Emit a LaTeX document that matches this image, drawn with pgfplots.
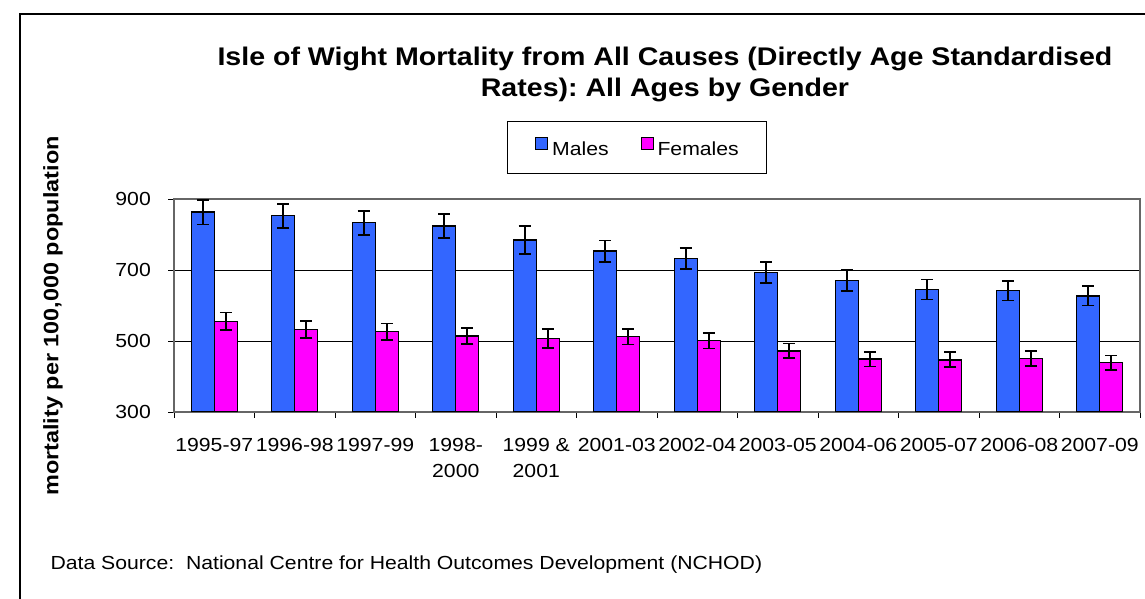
\documentclass[border=0pt]{standalone}
\usepackage{fontspec}
\setmainfont[FakeStretch=1.12]{Liberation Sans}
\usepackage{pgfplots}
\usepackage{pgfplotstable}
\pgfplotsset{compat=1.18}
\definecolor{mblue}{HTML}{3366FF}
\definecolor{mmag}{HTML}{FF00FF}
\pgfplotstableread{
x m me f fe
0 863 35 555 25
1 853 34 532 24
2 833 34 526 23
3 824 33 514 23
4 785 39 507 27
5 753 30 512 22
6 733 30 501 22
7 693 30 472 21
8 670 29 449 21
9 645 28 447 21
10 642 28 450 21
11 627 27 439 20
}\data
\begin{document}
\frenchspacing
\begin{tikzpicture}[x=1bp,y=1bp]
\useasboundingbox (0,0) rectangle (1145,599);
\draw[line width=2bp] (20,0) -- (20,585) -- (1146,585);
\node[font=\bfseries\fontsize{25.6}{30}\selectfont, anchor=base] at (665,533) {Isle of Wight Mortality from All Causes (Directly Age Standardised};
\node[font=\bfseries\fontsize{25.6}{30}\selectfont, anchor=base] at (665,502) {Rates): All Ages by Gender};
\node[font=\bfseries\fontsize{21}{24}\selectfont, rotate=90] at (53,283) {mortality per 100,000 population};
\node[font=\fontsize{19}{22}\selectfont, anchor=west] at (47,34) {Data Source:\ \ National Centre for Health Outcomes Development (NCHOD)};
\begin{axis}[at={(174bp,187bp)}, anchor=south west, scale only axis,
  width=966bp, height=213bp,
  ymin=300, ymax=900, ytick={300,500,700,900},
  /pgf/number format/assume math mode=true,
  xmin=-0.5, xmax=11.5, xtick={0,...,11},
  xticklabels={1995-97,1996-98,1997-99,1998-\\2000,1999 \&\\2001,2001-03,2002-04,2003-05,2004-06,2005-07,2006-08,2007-09},
  minor xtick={-0.5,0.5,...,11.5},
  major x tick style={draw=none},
  tick align=outside, tick pos=lower,
  major tick length=6bp, minor tick length=6bp,
  tick style={black, line width=0.8bp},
  ymajorgrids, grid style={black, line width=0.8bp},
  axis line style={draw=gray!80!black, line width=1.2bp},
  ybar, bar width=0.286,
  xticklabel style={font=\fontsize{19}{26}\selectfont, align=center, anchor=north, inner sep=0pt, yshift=-20bp},
  yticklabel style={font=\fontsize{19}{22}\selectfont, anchor=east, inner sep=0pt, xshift=-17bp},
  legend style={at={(axis description cs:0.3447,1.3662)}, anchor=north west, draw=black, line width=0.8bp,
    font=\fontsize{19}{22}\selectfont, inner xsep=28bp, inner ysep=16bp,
    nodes={inner sep=0pt},
    /tikz/every odd column/.append style={column sep=4bp},
    /tikz/every even column/.append style={column sep=32bp}},
  legend columns=2,
  legend image code/.code={\draw[#1, line width=0.8bp] (0bp,0bp) rectangle (12bp,12bp);},
  error bars/error bar style={black, line width=1.8bp},
  error bars/error mark options={black, rotate=90, mark size=6bp, line width=1.8bp},
]
\addplot[fill=mblue, draw=black, line width=1.4bp, bar shift=-0.143,
  error bars/.cd, y dir=both, y explicit] table[x=x, y=m, y error=me]{\data};
\addlegendentry{Males}
\addplot[fill=mmag, draw=black, line width=1.4bp, bar shift=0.143,
  error bars/.cd, y dir=both, y explicit] table[x=x, y=f, y error=fe]{\data};
\addlegendentry{Females}
\end{axis}
\end{tikzpicture}
\end{document}
